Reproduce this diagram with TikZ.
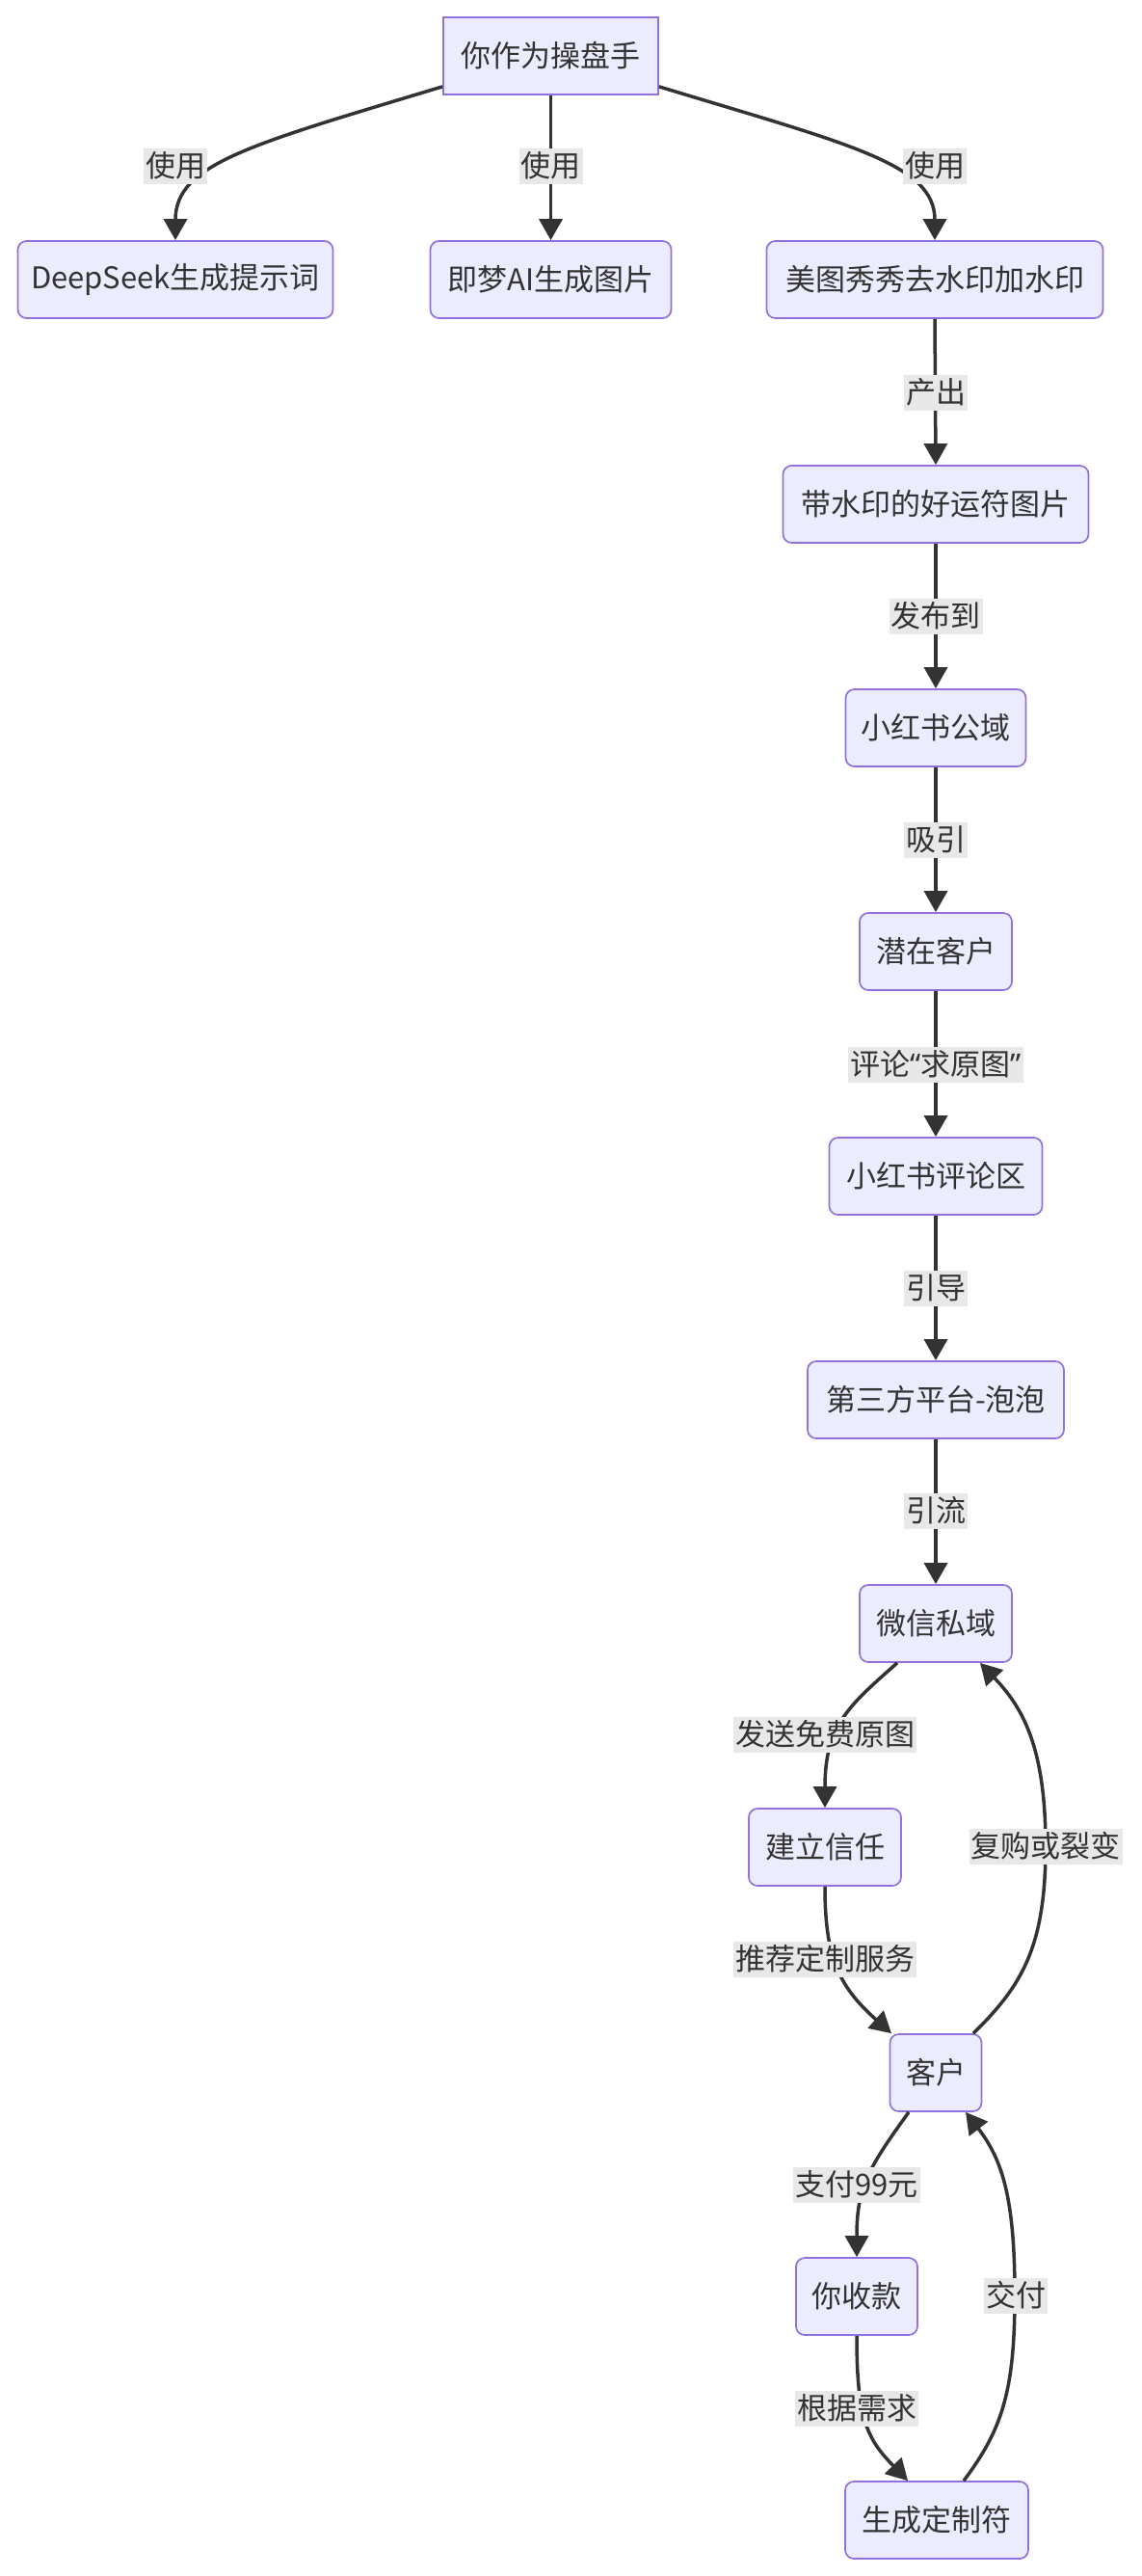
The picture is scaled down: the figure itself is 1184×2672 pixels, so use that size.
\documentclass[tikz,border=0pt]{standalone}
\usepackage{fontspec}
\setmainfont{Noto Sans CJK SC}
\newfontfamily\quotefont{Noto Sans}
\usetikzlibrary{arrows.meta}
\definecolor{nodefill}{HTML}{ECECFF}
\definecolor{nodeborder}{HTML}{9370DB}
\definecolor{edgecol}{HTML}{333333}
\definecolor{labelbg}{HTML}{E8E8E8}
\tikzset{
  box/.style={draw=nodeborder, fill=nodefill, line width=1.7pt, rounded corners=9pt,
    minimum height=80pt, inner xsep=0pt, inner ysep=0pt, text=edgecol,
    font=\fontsize{31}{37}\selectfont},
  sharpbox/.style={box, rounded corners=0pt},
  elabel/.style={fill=labelbg, text=edgecol, inner xsep=2pt, inner ysep=0pt,
    minimum height=37pt, font=\fontsize{31}{37}\selectfont},
  arr/.style={draw=edgecol, line width=3.5pt, -{Triangle[length=22pt,width=24pt]}}
}
\begin{document}
\begin{tikzpicture}[x=1pt,y=-1pt]
\useasboundingbox (0,0) rectangle (1184,2672);
% nodes
\node[sharpbox, minimum width=223pt] (A) at (571.5,58) {你作为操盘手};
\node[box, minimum width=327pt] (B) at (182,290) {DeepSeek生成提示词};
\node[box, minimum width=250pt] (C) at (571.5,290) {即梦AI生成图片};
\node[box, minimum width=349pt] (D) at (970,290) {美图秀秀去水印加水印};
\node[box, minimum width=317pt] (E) at (971,523) {带水印的好运符图片};
\node[box, minimum width=187pt] (F) at (971,755) {小红书公域};
\node[box, minimum width=158pt] (G) at (971,987) {潜在客户};
\node[box, minimum width=221pt] (H) at (971,1220) {小红书评论区};
\node[box, minimum width=266pt] (I) at (971,1452) {第三方平台-泡泡};
\node[box, minimum width=158pt] (J) at (971,1684) {微信私域};
\node[box, minimum width=158pt] (K) at (856,1916) {建立信任};
\node[box, minimum width=95pt] (L) at (971,2150) {客户};
\node[box, minimum width=126pt] (M) at (889,2382) {你收款};
\node[box, minimum width=190pt] (N) at (972,2614) {生成定制符};
% connectors
\draw[arr] ([yshift=9pt]A.south west) .. controls (260,150) and (182,170) .. (B.north);
\draw[arr] (A.south) -- (C.north);
\draw[arr] ([yshift=9pt]A.south east) .. controls (882,150) and (970,170) .. (D.north);
\draw[arr] (D.south) -- (E.north);
\draw[arr] (E.south) -- (F.north);
\draw[arr] (F.south) -- (G.north);
\draw[arr] (G.south) -- (H.north);
\draw[arr] (H.south) -- (I.north);
\draw[arr] (I.south) -- (J.north);
\draw[arr] ([xshift=-40pt]J.south) .. controls (880,1770) and (856,1790) .. (K.north);
\draw[arr] (K.south) .. controls (856,2030) and (870,2060) .. ([xshift=-46pt]L.north);
\draw[arr] ([xshift=39pt]L.north) .. controls (1060,2060) and (1085,2020) .. (1085,1915)
   .. controls (1085,1810) and (1060,1770) .. ([xshift=46pt]J.south);
\draw[arr] ([xshift=-28pt]L.south) .. controls (900,2250) and (889,2270) .. (M.north);
\draw[arr] (M.south) .. controls (889,2510) and (900,2530) .. ([xshift=-30pt]N.north);
\draw[arr] ([xshift=28pt]N.north) .. controls (1040,2520) and (1053,2480) .. (1053,2380)
   .. controls (1053,2280) and (1040,2240) .. ([xshift=31pt]L.south);
% edge labels
\node[elabel] (l1) at (182,172) {使用};
\node[elabel] (l2) at (571.5,172) {使用};
\node[elabel] (l3) at (970,172) {使用};
\node[elabel] (l4) at (971,407) {产出};
\node[elabel] (l5) at (971,639) {发布到};
\node[elabel] (l6) at (971,871) {吸引};
\node[elabel] (l7) at (971,1104) {评论{\quotefont “}求原图{\quotefont ”}};
\node[elabel] (l8) at (971,1336) {引导};
\node[elabel] (l9) at (971,1567) {引流};
\node[elabel] (l10) at (856,1799) {发送免费原图};
\node[elabel] (l11) at (856,2032) {推荐定制服务};
\node[elabel] (l12) at (1085,1915) {复购或裂变};
\node[elabel] (l13) at (889,2266) {支付99元};
\node[elabel] (l14) at (889,2498) {根据需求};
\node[elabel] (l15) at (1054,2381) {交付};
\end{tikzpicture}
\end{document}
